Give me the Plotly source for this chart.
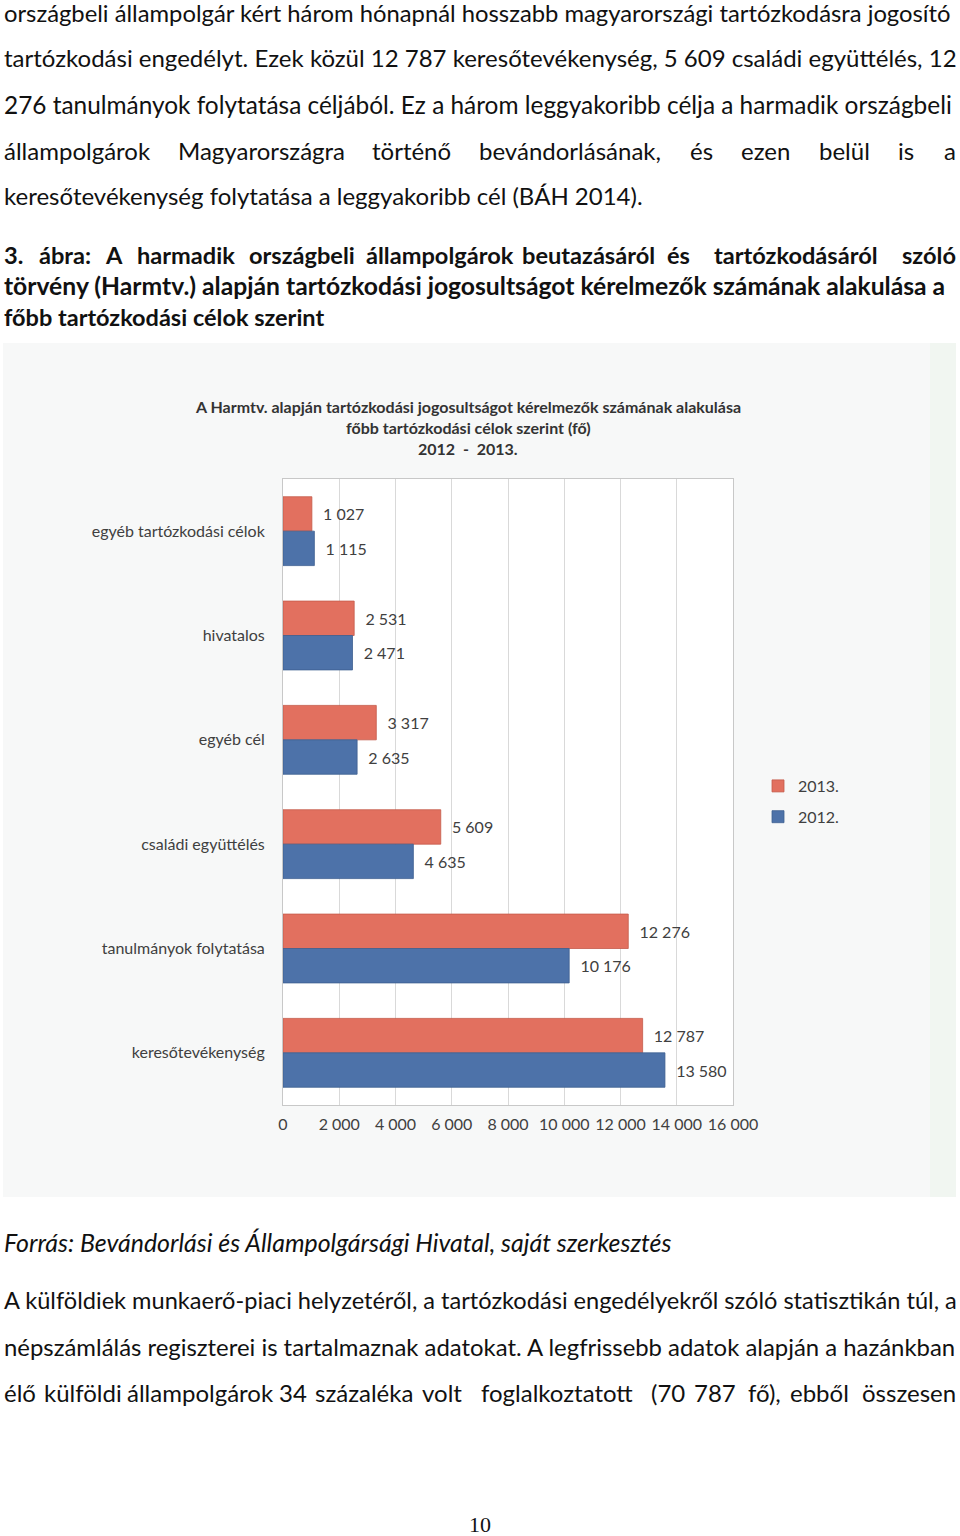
import plotly.graph_objects as go

W, H = 960, 1536

categories = ["egyéb tartózkodási célok", "hivatalos", "egyéb cél",
              "családi együttélés", "tanulmányok folytatása", "keresőtevékenység"]
values_2013 = [1027, 2531, 3317, 5609, 12276, 12787]
values_2012 = [1115, 2471, 2635, 4635, 10176, 13580]
series_names = ["2013.", "2012."]
x_ticks = [0, 2000, 4000, 6000, 8000, 10000, 12000, 14000, 16000]

chart_title = ["A Harmtv. alapján tartózkodási jogosultságot kérelmezők számának alakulása",
               "főbb tartózkodási célok szerint (fő)",
               "2012  -  2013."]

RED = "#e2705f"
BLUE = "#4d72a9"
TXT = "#404040"
BODY_FONT = "Lato, Carlito, sans-serif"


def px(x):
    return x / W


def py(y):
    return 1 - y / H


fig = go.Figure()
for name, vals, col, edge in [(series_names[0], values_2013, RED, "#c45a4a"),
                              (series_names[1], values_2012, BLUE, "#3d5f90")]:
    fig.add_trace(go.Bar(
        y=categories, x=vals, name=name, orientation="h",
        marker=dict(color=col, line=dict(color=edge, width=0.8)),
        texttemplate="\u00a0\u00a0%{x:,d}", textposition="outside",
        textfont=dict(size=16, color=TXT, family=BODY_FONT),
        cliponaxis=False, legendgroup=name,
    ))

shapes = [
    dict(type="rect", xref="paper", yref="paper", x0=px(3), x1=px(930), y0=py(1197), y1=py(343),
         fillcolor="#f7f8f8", line=dict(width=0), layer="below"),
    dict(type="rect", xref="paper", yref="paper", x0=px(930), x1=px(956), y0=py(1197), y1=py(343),
         fillcolor="#f1f6f1", line=dict(width=0), layer="below"),
    dict(type="rect", xref="paper", yref="paper", x0=px(283), x1=px(733), y0=py(1105), y1=py(479),
         fillcolor="white", line=dict(width=0), layer="below"),
]

annotations = []


def txt(x, y, s, size=24, bold=False, italic=False, anchor="left", color="#111111", family=BODY_FONT):
    if bold:
        s = "<b>" + s + "</b>"
    if italic:
        s = "<i>" + s + "</i>"
    annotations.append(dict(x=px(x), y=py(y), xref="paper", yref="paper", text=s, showarrow=False,
                            xanchor=anchor, yanchor="middle", borderpad=0,
                            font=dict(size=size, color=color, family=family)))


def justified(y, first, middle, last, **kw):
    """first: (x_left, word), middle: [(x_center, word)], last: (x_right, word)"""
    txt(first[0], y, first[1], anchor="left", **kw)
    for xc, w in middle:
        txt(xc, y, w, anchor="center", **kw)
    txt(last[0], y, last[1], anchor="right", **kw)


# top paragraph
txt(3, 13, "országbeli állampolgár kért három hónapnál hosszabb magyarországi tartózkodásra jogosító", size=23.8)
txt(3, 58, "tartózkodási engedélyt. Ezek közül 12 787 keresőtevékenység, 5 609 családi együttélés, 12", size=24)
txt(3, 104, "276 tanulmányok folytatása céljából. Ez a három leggyakoribb célja a harmadik országbeli", size=24.4)
justified(150, (3, "állampolgárok"),
          [(261, "Magyarországra"), (411, "történő"), (570, "bevándorlásának,"), (701, "és"),
           (765, "ezen"), (844, "belül"), (906, "is")],
          (957, "a"), size=24)
txt(3, 196, "keresőtevékenység folytatása a leggyakoribb cél (BÁH 2014).", size=24)

# caption
justified(255, (3, "3."),
          [(65, "ábra:"), (114, "A"), (186, "harmadik"), (302, "országbeli"), (440, "állampolgárok"),
           (588, "beutazásáról"), (678, "és"), (796, "tartózkodásáról")],
          (957, "szóló"), bold=True, size=23.6)
txt(3, 286, "törvény (Harmtv.) alapján tartózkodási jogosultságot kérelmezők számának alakulása a", bold=True, size=24.7)
txt(3, 317, "főbb tartózkodási célok szerint", bold=True, size=23.5)

# chart title
for i, line in enumerate(chart_title):
    txt(468, 407 + i * 20.5, line, size=16, bold=True, anchor="center", color="#333333")

# source + bottom paragraph
txt(3, 1242, "Forrás: Bevándorlási és Állampolgársági Hivatal, saját szerkesztés", italic=True, size=24.9)
txt(3, 1300, "A külföldiek munkaerő-piaci helyzetéről, a tartózkodási engedélyekről szóló statisztikán túl, a", size=23.6)
txt(3, 1346, "népszámlálás regiszterei is tartalmaznak adatokat. A legfrissebb adatok alapján a hazánkban", size=23.9)
justified(1392, (3, "élő"),
          [(83, "külföldi"), (200, "állampolgárok"), (293, "34"), (364, "százaléka"), (442, "volt"),
           (557, "foglalkoztatott"), (668, "(70"), (715, "787"), (764, "fő),"), (819, "ebből")],
          (957, "összesen"), size=24)
txt(480, 1524, "10", size=22, anchor="center", family="Liberation Serif, serif")

fig.update_layout(
    width=W, height=H, autosize=False,
    margin=dict(l=0, r=0, t=0, b=0, autoexpand=False),
    paper_bgcolor="white", plot_bgcolor="rgba(0,0,0,0)",
    barmode="group", bargap=0.34, bargroupgap=0,
    separators=", ",
    font=dict(family=BODY_FONT, color=TXT, size=16),
    shapes=shapes, annotations=annotations,
    legend=dict(x=px(758), y=py(769), xanchor="left", yanchor="top",
                font=dict(size=16, color=TXT, family=BODY_FONT),
                bgcolor="rgba(0,0,0,0)", tracegroupgap=7, traceorder="grouped"),
    xaxis=dict(domain=[px(283), px(733)], range=[0, 16000], tickvals=x_ticks, tickformat=",d",
               showgrid=True, gridcolor="#d9d9d9", gridwidth=1, zeroline=False,
               showline=True, linecolor="#c8c8c8", mirror=True,
               tickfont=dict(size=16, color=TXT), ticks="", ticklabelstandoff=5),
    yaxis=dict(domain=[py(1105), py(479)], autorange="reversed", showgrid=False,
               showline=True, linecolor="#c8c8c8", mirror=True,
               tickfont=dict(size=16, color=TXT), ticks="", ticklabelstandoff=14),
)

fig.write_html(
    "out.html",
    config={"responsive": False, "displayModeBar": False},
    post_script="document.body.style.margin='0';document.body.style.overflow='hidden';",
)
